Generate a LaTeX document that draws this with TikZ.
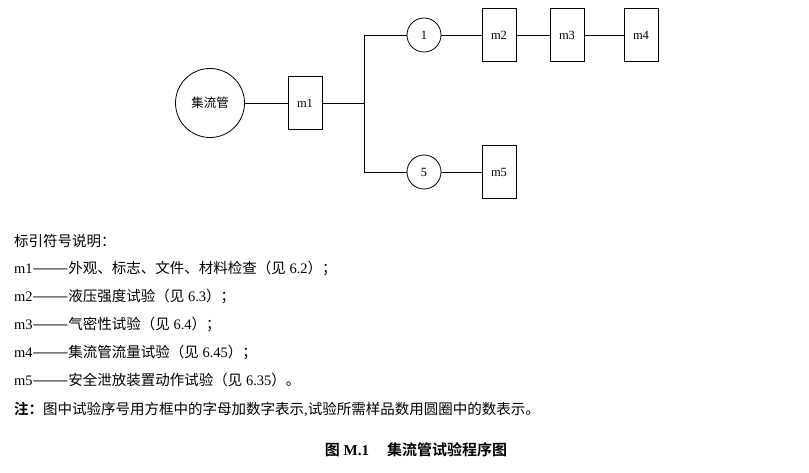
\documentclass[tikz,border=0pt]{standalone}
\usepackage{fontspec}
\setmainfont{Liberation Serif}
\newfontfamily\cjk{Noto Sans CJK SC}
\newfontfamily\cjkb{Noto Sans CJK SC Bold}
\newcommand{\C}[1]{{\cjk #1}}
\begin{document}
\begin{tikzpicture}[x=1pt,y=-1pt,
  nf/.style={font=\fontsize{12.5}{14}\selectfont},
  box/.style={draw,thick,minimum width=34pt,minimum height=53pt,inner sep=0pt,nf},
  circ/.style={draw,thick,circle,minimum size=34pt,inner sep=0pt,nf},
  line/.style={thick},
  txt/.style={anchor=west,inner sep=0pt,font=\fontsize{14.5}{16}\selectfont}]
\useasboundingbox (0,0) rectangle (809,473);
\node[draw,thick,circle,minimum size=69pt,inner sep=0pt,nf] (g) at (210,103) {\C{集流管}};
\node[box] (m1) at (305,103) {m1};
\coordinate (j) at (364,103);
\coordinate (jt) at (364,35);
\coordinate (jb) at (364,172);
\node[circ] (c1) at (424,35) {1};
\node[box] (m2) at (499,35) {m2};
\node[box] (m3) at (567,35) {m3};
\node[box] (m4) at (641,35) {m4};
\node[circ] (c5) at (424,172) {5};
\node[box] (m5) at (499,172) {m5};
\draw[line] (g) -- (m1) -- (j);
\draw[line] (jt) -- (jb);
\draw[line] (jt) -- (c1) -- (m2) -- (m3) -- (m4);
\draw[line] (jb) -- (c5) -- (m5);
\node[txt] (t0) at (14,241) {\C{标引符号说明：}};
\node[txt] (t1) at (14,268) {m1\C{———外观、标志、文件、材料检查（见} 6.2\C{）；}};
\node[txt] (t2) at (14,296) {m2\C{———液压强度试验（见} 6.3\C{）；}};
\node[txt] (t3) at (14,324) {m3\C{———气密性试验（见} 6.4\C{）；}};
\node[txt] (t4) at (14,352) {m4\C{———集流管流量试验（见} 6.45\C{）；}};
\node[txt] (t5) at (14,380) {m5\C{———安全泄放装置动作试验（见} 6.35\C{）。}};
\node[txt] (t6) at (14,409) {{\cjkb 注：}\C{图中试验序号用方框中的字母加数字表示},\C{试验所需样品数用圆圈中的数表示。}};
\node[font=\fontsize{15}{17}\selectfont,inner sep=0pt] (cap) at (416,450) {{\cjkb 图} \textbf{M.1}\hspace{1.2em}{\cjkb 集流管试验程序图}};
\end{tikzpicture}
\end{document}
